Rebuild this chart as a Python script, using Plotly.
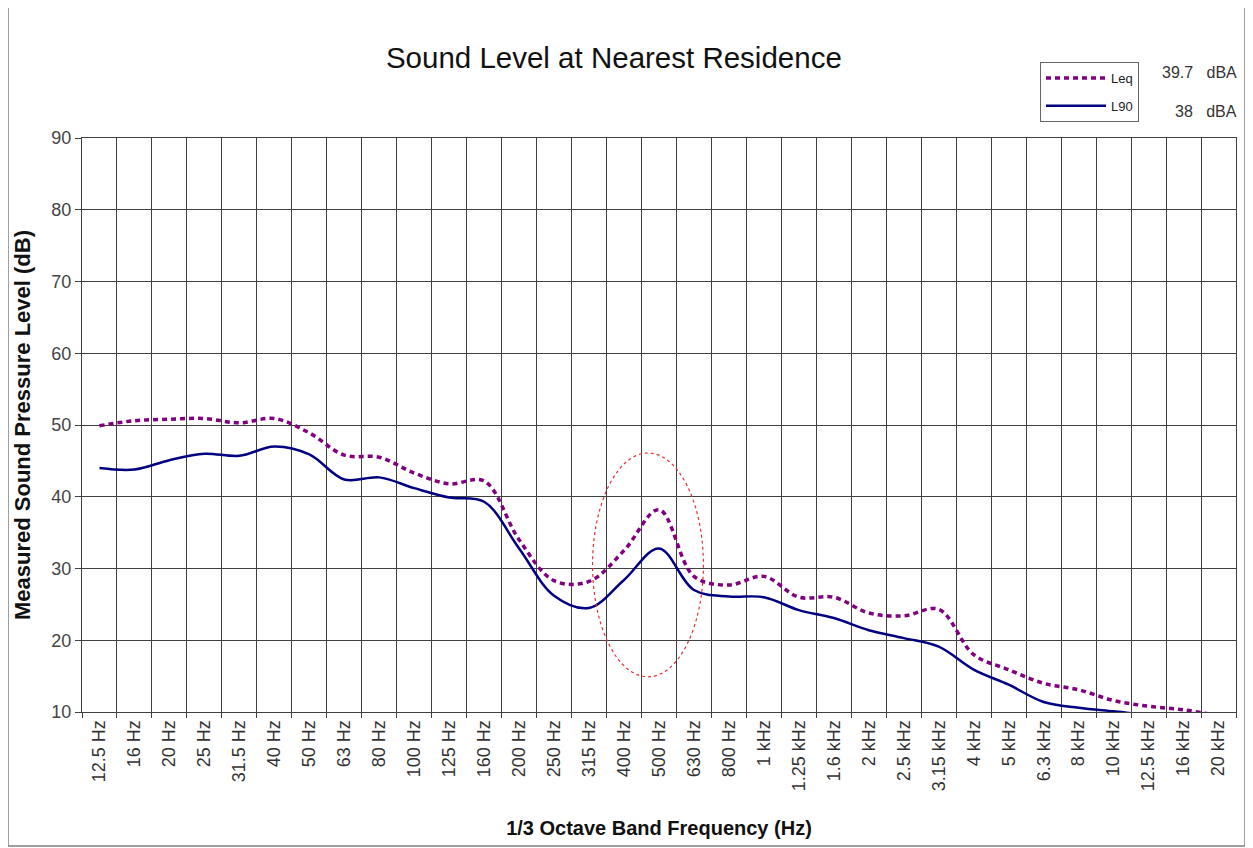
import plotly.graph_objects as go

categories = ["12.5 Hz", "16 Hz", "20 Hz", "25 Hz", "31.5 Hz", "40 Hz", "50 Hz", "63 Hz", "80 Hz",
              "100 Hz", "125 Hz", "160 Hz", "200 Hz", "250 Hz", "315 Hz", "400 Hz", "500 Hz",
              "630 Hz", "800 Hz", "1 kHz", "1.25 kHz", "1.6 kHz", "2 kHz", "2.5 kHz", "3.15 kHz",
              "4 kHz", "5 kHz", "6.3 kHz", "8 kHz", "10 kHz", "12.5 kHz", "16 kHz", "20 kHz"]

leq = [49.9, 50.6, 50.8, 50.9, 50.3, 50.9, 48.9, 45.8, 45.5, 43.3, 41.8, 42.2, 34.0, 28.3,
       28.2, 32.5, 38.2, 28.9, 27.7, 28.9, 26.0, 26.0, 23.8, 23.4, 24.3, 18.0, 15.9, 14.0,
       13.1, 11.6, 10.8, 10.3, 9.5]

l90 = [44.0, 43.8, 45.1, 46.0, 45.7, 47.0, 45.9, 42.4, 42.7, 41.2, 39.9, 39.3, 32.8, 26.2,
       24.5, 28.4, 32.8, 27.0, 26.1, 26.0, 24.2, 23.1, 21.4, 20.3, 19.1, 15.9, 13.8, 11.4,
       10.6, 10.1, 9.6, 9.3, 9.1]

leq_dba = "39.7"
l90_dba = "38"

W, H = 1253, 848
OFF = 8  # page body margin offset
L, R, T, B = 82 - OFF, 1236 - OFF, 138 - OFF, 712 - OFF
FONT = "Liberation Sans, Arial"


def px(x):
    return (x - OFF - L) / (R - L)


def py(y):
    return (B - (y - OFF)) / (B - T)


fig = go.Figure()
fig.add_trace(go.Scatter(x=categories, y=leq, name="Leq", mode="lines", legendgroup="a",
                         line=dict(color="#800080", width=3.5, dash="5px,4px", shape="spline", smoothing=1.0)))
fig.add_trace(go.Scatter(x=categories, y=l90, name="L90", mode="lines", legendgroup="b",
                         line=dict(color="#000080", width=2.5, shape="spline", smoothing=1.0)))

# highlight ellipse
fig.add_shape(type="circle", xref="x", yref="y", x0=14.1, x1=17.27, y0=14.9, y1=46.1,
              line=dict(color="#e83030", width=1.2, dash="dot"))

# outer chart border
fig.add_shape(type="rect", xref="paper", yref="paper", x0=px(8), x1=px(1245), y0=py(846), y1=py(5),
              line=dict(color="#808080", width=1.5), layer="below")

fig.add_annotation(xref="paper", yref="paper", x=px(1239), y=py(73), text=leq_dba + "&nbsp;&nbsp;&nbsp;dBA",
                   showarrow=False, xanchor="right", yanchor="middle",
                   font=dict(family=FONT, size=16, color="#333333"))
fig.add_annotation(xref="paper", yref="paper", x=px(1239), y=py(111), text=l90_dba + "&nbsp;&nbsp;&nbsp;dBA",
                   showarrow=False, xanchor="right", yanchor="middle",
                   font=dict(family=FONT, size=16, color="#333333"))

fig.update_layout(
    width=W, height=H,
    margin=dict(l=L, r=W - R, t=T, b=H - B, autoexpand=False),
    paper_bgcolor="white", plot_bgcolor="white",
    font=dict(family=FONT, color="#333333"),
    title=dict(text="Sound Level at Nearest Residence", x=px(640), xanchor="center",
               y=1 - (58 - OFF) / H, yanchor="middle",
               font=dict(family=FONT, size=29.5, color="#111111")),
    showlegend=True,
    legend=dict(x=px(1040), y=py(62), xanchor="left", yanchor="top",
                bordercolor="#666666", borderwidth=1, bgcolor="white",
                font=dict(family=FONT, size=13, color="#222222"),
                traceorder="grouped", tracegroupgap=8, itemwidth=60),
    xaxis=dict(type="category", tickson="boundaries", showgrid=True, gridcolor="#404040", gridwidth=1,
               ticks="outside", ticklen=5, tickcolor="#404040", tickangle=-90,
               tickfont=dict(family=FONT, size=18, color="#333333"),
               showline=True, linecolor="#404040", linewidth=1, mirror=True,
               range=[-0.5, 32.5], automargin=False,
               title=dict(text="<b>1/3 Octave Band Frequency (Hz)</b>", standoff=30,
                          font=dict(family=FONT, size=20, color="#111111"))),
    yaxis=dict(range=[10, 90], dtick=10, showgrid=True, gridcolor="#404040", gridwidth=1,
               ticks="outside", ticklen=6, tickcolor="#404040", automargin=False,
               tickfont=dict(family=FONT, size=18, color="#444444"),
               showline=True, linecolor="#404040", linewidth=1, mirror=True, zeroline=False,
               title=dict(text="<b>Measured Sound Pressure Level (dB)</b>", standoff=14,
                          font=dict(family=FONT, size=22, color="#111111"))),
)

fig.write_html("out.html")
